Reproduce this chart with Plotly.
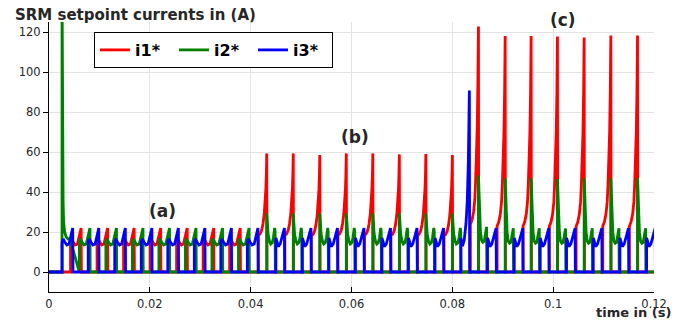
import plotly.graph_objects as go

# ---------------- data ----------------
# time instants (s) at which each phase's setpoint pulse ends (peak of the pulse)
red_end_t = [0.00637, 0.01163, 0.01689, 0.02215, 0.02741, 0.03267, 0.03793,
             0.04319, 0.04845, 0.05371, 0.05897, 0.06423, 0.06949, 0.07475, 0.08001,
             0.08518, 0.09048, 0.09563, 0.10085, 0.10615, 0.11144, 0.11673]
red_peak = [22, 22, 22, 22, 22, 22, 22,
            59.3, 59.3, 58.5, 59.3, 59.3, 58.8, 59.0, 58.5,
            122.7, 118, 118, 117.7, 117.3, 118.2, 118.2]
red_kind = ["a"] * 7 + ["rb"] * 8 + ["rc"] * 7

green_end_t = [0.00812, 0.01338, 0.01864, 0.02390, 0.02916, 0.03442, 0.03968,
               0.04494, 0.05020, 0.05546, 0.06072, 0.06598, 0.07124, 0.07650, 0.08176,
               0.08693, 0.09223, 0.09738, 0.10260, 0.10790, 0.11319, 0.11848]
green_peak = [22, 22, 22, 22, 22, 22, 22,
              29.3, 29.3, 29.3, 29.3, 29.3, 29.3, 29.3, 29.3,
              48.2, 46.8, 46.8, 46.5, 46.8, 46.8, 46.8]
green_kind = ["a"] * 7 + ["gb"] * 8 + ["gc"] * 7

blue_end_t = [0.00470, 0.00988, 0.01514, 0.02040, 0.02566, 0.03092, 0.03618, 0.04144,
              0.04670, 0.05196, 0.05722, 0.06248, 0.06774, 0.07300, 0.07826,
              0.08338, 0.08868, 0.09398, 0.09913, 0.10435, 0.10965, 0.11494, 0.12023]
blue_peak = [22] * 15 + [90.7] + [22] * 7
blue_kind = ["a"] * 8 + ["bb"] * 7 + ["bx"] + ["bb"] * 7

# start-up transient of phase 2 (time s, current A)
green_init_t = [0.00258, 0.00259, 0.00270, 0.00280, 0.00290, 0.00310, 0.00340, 0.00380, 0.00415]
green_init_v = [0, 140, 60, 35, 25, 20, 17.5, 16.5, 16.5]

# pulse templates: (duration s, relative positions, values, reference peak)
templates = {
    "a":  (0.00210, [0, 0.10, 0.25, 0.45, 0.65, 0.85, 1.0],
           [15, 16.5, 15, 13.5, 14, 18, 22], 22),
    "rb": (0.00167, [0, 0.2, 0.4, 0.55, 0.7, 0.8, 0.9, 0.96, 1.0],
           [18.5, 19, 21, 24, 29, 34, 42, 50, 59.3], 59.3),
    "rc": (0.00160, [0, 0.2, 0.4, 0.55, 0.65, 0.75, 0.85, 0.93, 1.0],
           [23, 25, 29, 35, 44, 55, 70, 90, 118], 118),
    "gb": (0.00175, [0, 0.06, 0.15, 0.3, 0.45, 0.6, 0.75, 0.9, 0.95],
           [29.3, 24, 19, 15.5, 14, 14.5, 17, 22, 20], 29.3),
    "gc": (0.00175, [0, 0.05, 0.12, 0.22, 0.35, 0.5, 0.65, 0.8, 0.92],
           [47, 38, 28, 20, 15.5, 14.5, 15, 18, 22], 47),
    "bb": (0.00170, [0, 0.15, 0.3, 0.5, 0.7, 0.85, 1.0],
           [17, 15, 12.7, 14, 17, 20, 22], 22),
    "bx": (0.00170, [0, 0.2, 0.4, 0.6, 0.75, 0.88, 1.0],
           [17, 13, 16, 24, 35, 55, 90.7], 90.7),
}


def build(end_t, peaks, kinds, pre_t=None, pre_v=None):
    xs, ys = [0.0], [0.0]
    if pre_t:
        xs += pre_t
        ys += pre_v
    for te, pk, kd in zip(end_t, peaks, kinds):
        dur, us, vs, ref = templates[kd]
        t0 = te - dur
        xs.append(t0)
        ys.append(0.0)
        for u, v in zip(us, vs):
            xs.append(t0 + u * dur)
            ys.append(v * pk / ref)
        xs.append(t0 + us[-1] * dur + 0.00005)
        ys.append(0.0)
    xs.append(0.1225)
    ys.append(0.0)
    return xs, ys


rx, ry = build(red_end_t, red_peak, red_kind)
gx, gy = build(green_end_t, green_peak, green_kind, green_init_t, green_init_v)
bx, by = build(blue_end_t, blue_peak, blue_kind)

fig = go.Figure()
fig.add_trace(go.Scatter(x=rx, y=ry, mode="lines", name="i1*",
                         line=dict(color="#ff0000", width=2.8)))
fig.add_trace(go.Scatter(x=gx, y=gy, mode="lines", name="i2*",
                         line=dict(color="#008000", width=2.8)))
fig.add_trace(go.Scatter(x=bx, y=by, mode="lines", name="i3*",
                         line=dict(color="#0000ff", width=2.8)))

x_ticks = [0, 0.02, 0.04, 0.06, 0.08, 0.1, 0.12]
x_tick_text = ["0", "0.02", "0.04", "0.06", "0.08", "0.1", "0.12"]
y_ticks = [0, 20, 40, 60, 80, 100, 120]

tick_font = dict(family="DejaVu Sans", size=11.5, color="#262626")
bold = dict(family="DejaVu Sans", color="#262626", weight="bold")

fig.update_layout(
    width=684, height=320,
    margin=dict(l=49, r=30, t=22, b=28, autoexpand=False),
    paper_bgcolor="white", plot_bgcolor="white",
    showlegend=True,
    legend=dict(orientation="h", x=0.0744, y=0.963, xanchor="left", yanchor="top",
                bgcolor="white", bordercolor="black", borderwidth=1,
                font=dict(family="DejaVu Sans", size=16, color="black", weight="bold"),
                entrywidth=34, entrywidthmode="pixels", tracegroupgap=0),
    xaxis=dict(range=[0, 0.12], tickvals=x_ticks, ticktext=x_tick_text,
               showgrid=True, gridcolor="#e3e3e3", gridwidth=1,
               showline=True, linecolor="black", linewidth=1,
               ticks="inside", ticklen=5, tickcolor="black", ticklabelstandoff=1,
               tickfont=tick_font, zeroline=False, automargin=False),
    yaxis=dict(range=[-10, 125], tickvals=y_ticks,
               showgrid=True, gridcolor="#e3e3e3", gridwidth=1,
               showline=True, linecolor="black", linewidth=1,
               ticks="outside", ticklen=5, tickcolor="black",
               tickfont=tick_font, zeroline=False, automargin=False),
    annotations=[
        dict(text="SRM setpoint currents in (A)", xref="paper", yref="paper",
             x=-0.060, y=1.0, xanchor="left", yanchor="middle", yshift=7,
             showarrow=False, font=dict(size=15, **bold)),
        dict(text="time in (s)", xref="paper", yref="paper", x=1.029, y=0,
             xanchor="right", yanchor="middle", yshift=-20, showarrow=False,
             borderpad=0, font=dict(size=13, **bold)),
        dict(text="(a)", x=0.0225, y=30.5, showarrow=False, font=dict(size=17, **bold)),
        dict(text="(b)", x=0.0607, y=67.5, showarrow=False, font=dict(size=17, **bold)),
        dict(text="(c)", x=0.1020, xref="x", yref="paper", y=1.0074, yanchor="middle",
             showarrow=False, font=dict(size=17, **bold)),
    ],
)

fig.write_html("out.html", config={"displayModeBar": False},
               post_script="document.body.style.margin='0';document.body.style.padding='0';")
